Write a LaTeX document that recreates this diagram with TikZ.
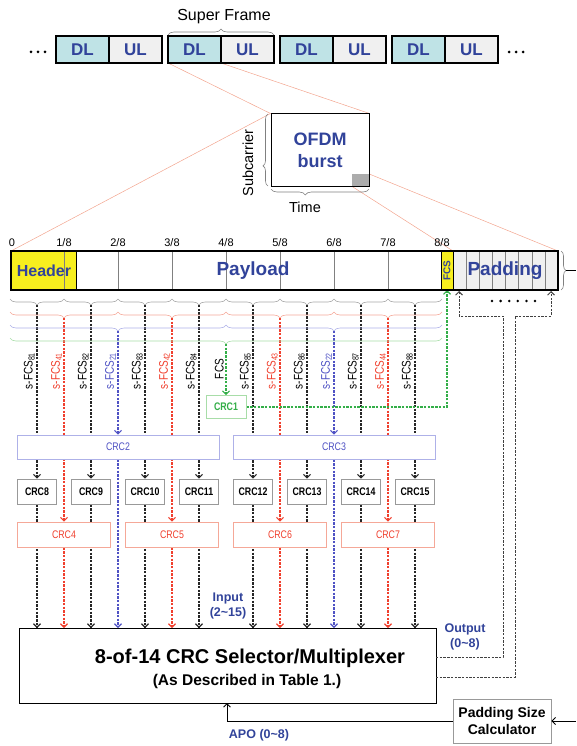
\documentclass[tikz,border=0pt]{standalone}
\usepackage{fontspec}
\setmainfont{Liberation Sans}
\newfontfamily\condsf[FakeStretch=0.8]{Liberation Sans}
\usetikzlibrary{arrows.meta, positioning, decorations.pathreplacing}

\definecolor{txtblue}{HTML}{31439A}
\definecolor{dlfill}{HTML}{BFE3E6}
\definecolor{ulfill}{HTML}{F0F0F0}
\definecolor{lnred}{HTML}{F0402E}
\definecolor{lnblue}{HTML}{4F52C4}
\definecolor{lngreen}{HTML}{33AE48}
\definecolor{brred}{HTML}{F5A898}
\definecolor{brblue}{HTML}{AEB1E8}
\definecolor{brgreen}{HTML}{A8DDA8}
\definecolor{zoomred}{HTML}{F3A58F}
\definecolor{hdryellow}{HTML}{F7EF1E}

\newcommand{\fsz}[2]{\fontsize{#1}{#2}\selectfont}

\pgfdeclarelayer{bg}
\pgfsetlayers{bg,main}

\begin{document}
\begin{tikzpicture}[x=1pt, y=-1pt,
    cell/.style={draw, line width=1.3pt, outer sep=0pt, inner sep=0pt, minimum width=53pt, minimum height=27pt, font=\fsz{17}{17}\bfseries, text=txtblue},
    brc/.style={decorate, decoration={brace, amplitude=6pt}, line width=0.6pt},
    lbl/.style={rotate=90, anchor=south, inner sep=1pt, font=\condsf\fsz{12.5}{12.5}},
    crc/.style={draw, fill=white, line width=0.8pt, inner sep=0pt, minimum height=25pt, font=\condsf\fsz{11}{11}},
    dsh/.style={line width=1.1pt, dash pattern=on 2.4pt off 1.3pt, -{Straight Barb[length=3.5pt, width=7pt]}},
    sol/.style={line width=0.9pt, -{Straight Barb[length=3.5pt, width=7pt]}},
    zoomln/.style={draw=zoomred, line width=0.5pt},
    big/.style={font=\fsz{19}{19}\bfseries, text=txtblue},
    tick/.style={font=\fsz{11}{11}}
  ]
  \useasboundingbox (0,0) rectangle (576,746);

  % super frames
  \foreach \k in {0,...,3} {
    \node[cell, fill=dlfill] (dl\k) at (82.5+112*\k, 49.5) {DL};
    \node[cell, fill=ulfill, right=0pt of dl\k] (ul\k) {UL};
  }
  \foreach \x in {31,38,45,509,516,523} \fill (\x,52) circle (1.5pt);
  \draw[brc, gray] (168,35) -- (274,35);
  \node[font=\fsz{16}{16}] (sframe) at (224,17) {Super Frame};

  % OFDM burst
  \node[draw, line width=1pt, minimum width=98pt, minimum height=72pt, align=center, font=\fsz{18}{22}\bfseries, text=txtblue] (burst) at (320,150) {OFDM\\burst};
  \node[fill=gray!65, minimum width=17pt, minimum height=12pt, inner sep=0pt, anchor=south east] (gsq) at (burst.south east) {};
  \draw[brc, gray, decoration={amplitude=5pt, aspect=0.28}] (268,186) -- (268,114);
  \node[rotate=90, font=\fsz{14.5}{14.5}] (subc) at (248,163) {Subcarrier};
  \draw[brc, gray, decoration={aspect=0.65}] (369,189) -- (271,189);
  \node[font=\fsz{14.5}{14.5}] (time) at (305,207) {Time};

  % burst bar
  \node[draw, fill=hdryellow, minimum width=65pt, minimum height=39pt, inner sep=0pt, outer sep=0pt, anchor=north west] (header) at (11,251) {};
  \node[draw, fill=ulfill, minimum width=105pt, minimum height=39pt, inner sep=0pt, outer sep=0pt, anchor=north west] (pad) at (453,251) {};
  \foreach \k in {1,...,7} \draw[gray, line width=0.5pt] (10+54*\k,251) -- +(0,39);
  \foreach \k in {1,...,7} \draw[gray, line width=0.5pt] (453+13.125*\k,251) -- +(0,39);
  \node[draw, fill=hdryellow, minimum width=12pt, minimum height=39pt, inner sep=0pt, outer sep=0pt, font=\fsz{10}{10}\bfseries, text=txtblue] (fcs) at (447,270.5) {\rotatebox{90}{FCS}};
  \draw[line width=1.3pt] (11,251) rectangle (558,290);
  \node[big, font=\fsz{16}{16}\bfseries] (hdr) at (44,271) {Header};
  \node[big] (payload) at (253,271) {Payload};
  \node[big] (padding) at (505,271) {Padding};
  \node[tick] (t0) at (12,243) {0};
  \foreach \k in {1,...,8} \node[tick] (t\k) at (10+54*\k,243) {\k/8};
  \draw[brc, gray, decoration={amplitude=5pt}] (561,251) -- (561,290);
  \coordinate (padtip) at (566,270.5);
  \coordinate (outR) at (576,270.5);
  \draw[line width=0.8pt] (padtip) -- (outR);
  \foreach \k in {0,...,5} \fill (492+8.6*\k,301) circle (1.4pt);

  % braces over the eighths
  \foreach \k in {0,...,7} \draw[brc, gray!70] ({10+54*(\k+1)},299) -- ({10+54*\k},299);
  \foreach \k in {0,...,3} \draw[brc, brred] ({10+108*(\k+1)},312) -- ({10+108*\k},312);
  \foreach \k in {0,1} \draw[brc, brblue] ({10+216*(\k+1)},325) -- ({10+216*\k},325);
  \draw[brc, brgreen] (442,338) -- (10,338);

  % multiplexer and calculator
  \node[draw, line width=1.3pt, minimum width=417pt, minimum height=75pt, inner sep=0pt, anchor=north west] (mux) at (19,628) {};
  \node[font=\fsz{20}{20}\bfseries] (muxtxt) at (250,658) {8-of-14 CRC Selector/Multiplexer};
  \node[font=\fsz{15.5}{15.5}\bfseries] (muxsub) at (247,681) {(As Described in Table 1.)};
  \node[draw=gray!80, line width=0.8pt, minimum width=98pt, minimum height=44pt, align=center, font=\fsz{14}{17}\bfseries] (psc) at (502,721) {Padding Size\\Calculator};
  \node[align=center, font=\fsz{12.5}{15}\bfseries, text=txtblue] (inlbl) at (228,606) {Input\\(2\textasciitilde15)};
  \node[align=center, font=\fsz{12.5}{15}\bfseries, text=txtblue] (outlbl) at (465,637) {Output\\(0\textasciitilde8)};
  \node[font=\fsz{12.5}{15}\bfseries, text=txtblue] (apo) at (259,735) {APO (0\textasciitilde8)};

  % CRC blocks and s-FCS labels
  \foreach \k in {0,...,7} {
    \pgfmathtruncatemacro\n{\k+8}
    \pgfmathtruncatemacro\s{\k+1}
    \coordinate (tb\k) at ({37+54*\k},305);
    \node[crc, draw=gray!80, font=\condsf\fsz{11}{11}\bfseries, minimum width=39pt] (crc\n) at ({37+54*\k},491.5) {CRC\n};
    \node[lbl] (lb\k) at ({36+54*\k},371) {s-FCS\textsubscript{8\s}};
  }
  \foreach \k in {0,...,3} {
    \pgfmathtruncatemacro\n{\k+4}
    \pgfmathtruncatemacro\s{\k+1}
    \coordinate (tr\k) at ({64+108*\k},318);
    \node[crc, draw=brred, text=lnred, minimum width=93pt] (crc\n) at ({64+108*\k},534.5) {CRC\n};
    \node[lbl, text=lnred] (lr\k) at ({63+108*\k},371) {s-FCS\textsubscript{4\s}};
  }
  \foreach \k in {0,1} {
    \pgfmathtruncatemacro\n{\k+2}
    \pgfmathtruncatemacro\s{\k+1}
    \coordinate (tl\k) at ({118+216*\k},331);
    \node[crc, draw=brblue, text=lnblue, minimum width=202pt, minimum height=24pt] (crc\n) at ({118+216*\k},447) {CRC\n};
    \node[lbl, text=lnblue] (ll\k) at ({117+216*\k},371) {s-FCS\textsubscript{2\s}};
  }
  \coordinate (tg) at (226,344);
  \node[crc, draw=brgreen, text=lngreen, font=\condsf\fsz{11}{11}\bfseries, minimum width=40pt, minimum height=23pt] (crc1) at (226,407) {CRC1};
  \node[lbl] (lg) at (225,369) {FCS};

  % connectors
  \coordinate (out1) at (436,657);
  \coordinate (out2) at (436,677);
  \coordinate (padL) at (459,291);
  \coordinate (padR) at (551,291);
  \coordinate (apoin) at (227,703);
  \coordinate (inR) at (576,721);
  \begin{pgfonlayer}{bg}
    \draw[zoomln] (dl1.south west) -- (burst.north west);
    \draw[zoomln] (dl1.south east) -- (burst.north east);
    \draw[zoomln] (burst.north west) -- (header.north west);
    \draw[zoomln] (gsq.north east) -- (pad.north east);
    \draw[zoomln] (gsq.south west) -- (pad.north west);
    \foreach \k in {0,...,7} {
      \pgfmathtruncatemacro\n{\k+8}
      \draw[dsh, black!85] (tb\k) -- (crc\n);
      \draw[dsh, black!85] (crc\n) -- (crc\n |- mux.north);
    }
    \foreach \k in {0,...,3} {
      \pgfmathtruncatemacro\n{\k+4}
      \draw[dsh, lnred] (tr\k) -- (crc\n);
      \draw[dsh, lnred] (crc\n) -- (crc\n |- mux.north);
    }
    \foreach \k in {0,1} {
      \pgfmathtruncatemacro\n{\k+2}
      \draw[dsh, lnblue] (tl\k) -- (crc\n);
      \draw[dsh, lnblue] (crc\n) -- (crc\n |- mux.north);
    }
    \draw[dsh, lngreen] (tg) -- (crc1);
    \draw[dsh, lngreen] (crc1.east) -| (fcs.south);
  \end{pgfonlayer}
  \draw[dsh, black!75, line width=0.9pt] (out1) -| (503,316) -| (padL);
  \draw[dsh, black!75, line width=0.9pt] (out2) -| (515,316) -| (padR);
  \draw[sol] (psc.west) -| (apoin);
  \draw[sol] (inR) -- (psc.east);
\end{tikzpicture}
\end{document}
